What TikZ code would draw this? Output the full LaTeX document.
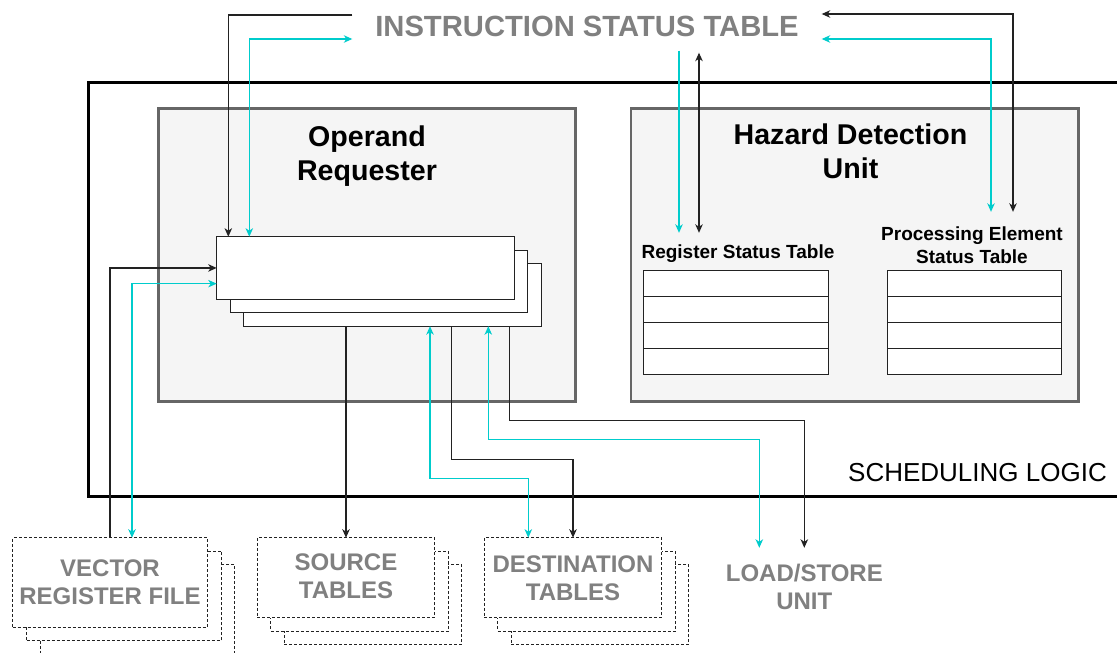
\documentclass[tikz,border=0pt]{standalone}
\usepackage{fontspec}
\setmainfont{Liberation Sans}
\usetikzlibrary{arrows.meta,calc}
\definecolor{tealc}{HTML}{00CCCC}
\definecolor{labelgray}{HTML}{808080}
\definecolor{panelgray}{HTML}{666666}
\definecolor{panelfill}{HTML}{F5F5F5}
\definecolor{inkline}{HTML}{222222}

\begin{document}
\begin{tikzpicture}[x=1pt,y=-1pt,
  >={Stealth[length=8.5pt,width=7.5pt,inset=2.5pt]},
  wire/.style={line width=1.2pt, draw=inkline},
  cwire/.style={line width=1.2pt, draw=tealc},
  boxbase/.style={inner sep=0pt, outer sep=0pt, anchor=north west},
  outerframe/.style={boxbase, draw=black, line width=3pt},
  panel/.style={boxbase, draw=panelgray, fill=panelfill, line width=2.5pt},
  slip/.style={boxbase, draw=inkline, fill=white, line width=1.1pt,
    minimum width=297.5pt, minimum height=62.5pt},
  card/.style={boxbase, draw=inkline, fill=white, line width=1pt,
    dash pattern=on 3pt off 2pt},
  cardtext/.style={font=\bfseries\fontsize{24}{28}\selectfont,
    text=labelgray, align=center},
  rowcell/.style={boxbase, draw=inkline, fill=white, line width=1.1pt,
    minimum height=25.9pt},
  paneltitle/.style={font=\bfseries\fontsize{28.6}{34.5}\selectfont, align=center},
  tabletitle/.style={font=\bfseries\fontsize{19}{22.6}\selectfont, align=center, inner sep=0pt},
]
% canvas
\path[fill=white, use as bounding box] (0,0) rectangle (1117,653);

% scheduling logic frame
\node[outerframe, minimum width=1040pt, minimum height=414pt] (sched) at (88,82.5) {};
\node[font=\fontsize{26}{30}\selectfont] (schl) at (977.5,473) {SCHEDULING LOGIC};

% panels
\node[panel, minimum width=417pt, minimum height=293pt] (opr) at (158.3,108.7) {};
\node[panel, minimum width=447.5pt, minimum height=293pt] (hdu) at (631,108.7) {};
\node[paneltitle] (oprl) at (367,156) {Operand\\Requester};
\node[paneltitle] (hdul) at (850.5,151.5) {Hazard Detection\\Unit};

% stacked request slips
\node[slip] (slipC) at (243.7,263.7) {};
\node[slip] (slipB) at (230.2,250.2) {};
\node[slip] (slipA) at (216.7,236.7) {};

% status tables
\node[tabletitle, minimum height=42pt] (rstlbl) at (738,254) {Register Status Table};
\node[tabletitle, minimum height=66pt] (pelbl) at (972,245) {Processing Element\\Status Table};
\foreach \i in {0,1,2,3} {
  \node[rowcell, minimum width=185pt] (rst\i) at (643.3,{270.7+25.9*\i}) {};
  \node[rowcell, minimum width=174.4pt] (pet\i) at (887.3,{270.7+25.9*\i}) {};
}

% instruction status table
\node[font=\bfseries\fontsize{29.2}{34}\selectfont, text=labelgray,
  minimum width=469pt, minimum height=48pt, inner sep=0pt] (ist) at (587,26.5)
  {INSTRUCTION STATUS TABLE};

% external units (stacked dashed cards)
\node[card, minimum width=194.6pt, minimum height=89.6pt] (vrfC) at (40.2,564.7) {};
\node[card, minimum width=194.6pt, minimum height=89.6pt] (vrfB) at (26.7,551.2) {};
\node[card, minimum width=194.6pt, minimum height=89.6pt] (vrfA) at (12.7,537.7) {};
\node[cardtext] (vrft) at (vrfA.center) {VECTOR\\REGISTER FILE};

\node[card, minimum width=177.4pt, minimum height=80pt] (srcC) at (284.3,564.7) {};
\node[card, minimum width=177.4pt, minimum height=80pt] (srcB) at (270.8,551.2) {};
\node[card, minimum width=177.4pt, minimum height=80pt] (srcA) at (257.3,537.7) {};
\node[cardtext] (srct) at ([yshift=1pt]srcA.center) {SOURCE\\TABLES};

\node[card, minimum width=177.4pt, minimum height=80pt] (dstC) at (511.3,564.7) {};
\node[card, minimum width=177.4pt, minimum height=80pt] (dstB) at (497.8,551.2) {};
\node[card, minimum width=177.4pt, minimum height=80pt] (dstA) at (484.3,537.7) {};
\node[cardtext] (dstt) at ([yshift=-1pt]dstA.center) {DESTINATION\\TABLES};

\node[cardtext, minimum height=78pt, inner sep=0pt] (lsu) at (804.3,587) {LOAD/STORE\\UNIT};

% taps on the register status table label
\coordinate (rstin) at ([xshift=-59pt]rstlbl.north);
\coordinate (rstio) at ([xshift=-39pt]rstlbl.north);

% instruction status table links
\draw[wire,->] ([yshift=11.5pt]ist.west) -| ([xshift=11.6pt]slipA.north west);
\draw[cwire,<->] ([xshift=32.6pt]slipA.north west) |- ([yshift=-12.5pt]ist.west);
\draw[wire,<->] ([yshift=12.5pt]ist.east) -| ([xshift=41pt]pelbl.north);
\draw[cwire,<->] ([yshift=-12.5pt]ist.east) -| ([xshift=19pt]pelbl.north);
\draw[cwire,->] (ist.south -| rstin) -- (rstin);
\draw[wire,<->] ([yshift=-2pt]ist.south -| rstio) -- (rstio);

% vector register file links
\draw[wire,->] ([xshift=97.3pt]vrfA.north west) |- (slipA.west);
\draw[cwire,<->] ([yshift=-15.7pt]slipA.west) -| ([xshift=119.3pt]vrfA.north west);

% operand requester outputs
\draw[wire,->] (slipC.south -| srcA.north) -- (srcA.north);
\draw[cwire,<->] ([xshift=186.3pt]slipC.south west) -- ++(0,152) -| ([xshift=-44.7pt]dstA.north);
\draw[wire,->] ([xshift=208pt]slipC.south west) -- ++(0,133) -| (dstA.north);
\draw[cwire,<->] ([xshift=244.6pt]slipC.south west) -- ++(0,113) -| ([xshift=-45pt]lsu.north);
\draw[wire,->] ([xshift=265.6pt]slipC.south west) -- ++(0,94) -| (lsu.north);
\end{tikzpicture}
\end{document}
